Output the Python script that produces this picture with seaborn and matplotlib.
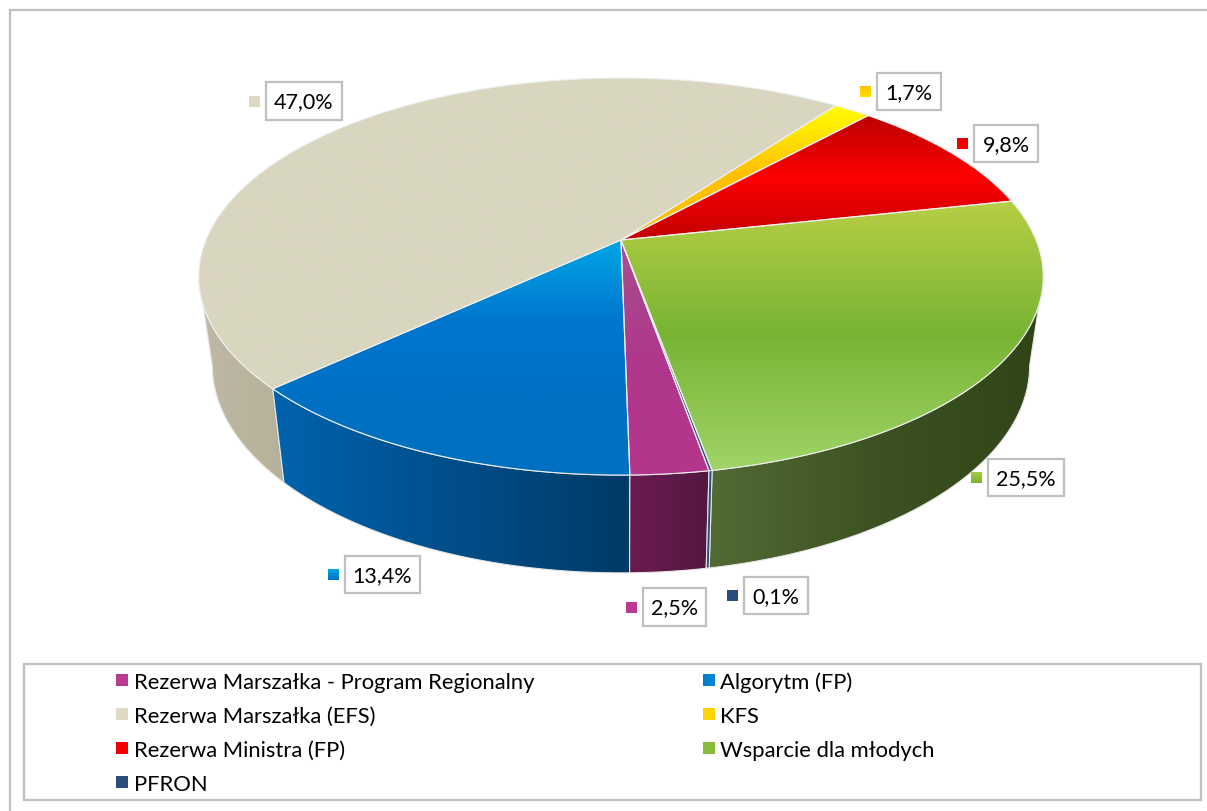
#!/usr/bin/env python3
"""3D-looking pie chart of fund shares, drawn from the percentages."""

import matplotlib
matplotlib.use("Agg")
import matplotlib.pyplot as plt
import numpy as np
import seaborn as sns
from matplotlib.lines import Line2D
from matplotlib.patches import Polygon, Rectangle

# data, in legend order (clockwise around the pie)
CATEGORIES = ["Rezerwa Marszałka - Program Regionalny", "Algorytm (FP)",
              "Rezerwa Marszałka (EFS)", "KFS", "Rezerwa Ministra (FP)",
              "Wsparcie dla młodych", "PFRON"]
SHARES = [2.5, 13.4, 47.0, 1.7, 9.8, 25.5, 0.1]
LABELS = ["2,5%", "13,4%", "47,0%", "1,7%", "9,8%", "25,5%", "0,1%"]

# styles
KEY_COLORS = ["#B83B90", "#0080D0", "#DDD9C3", "#FFD500", "#F00000", "#86BC3A", "#2A4D7C"]
TOP_STOPS = [["#A5508F", "#B0388C", "#B5368D"],
             ["#00A7E6", "#0078CF", "#0070C4", "#0070C0"],
             ["#D9D6C0", "#D9D6C0"],
             ["#FFFF00", "#FFC000", "#FFC000"],
             ["#BB0000", "#FF0000", "#C00000"],
             ["#B8CF45", "#78B434", "#A0D468"],
             ["#2A4D7C", "#2A4D7C"]]
WALL_STOPS = [["#6B1B50", "#521840"],
              ["#0063AE", "#003A66"],
              ["#BFB9A5", "#B5B19A"],
              ["#FFC000", "#C09000"],
              ["#A00000", "#700000"],
              ["#526B35", "#3C5222", "#2F4517"],
              ["#2A4D7C", "#2A4D7C"]]
SQUARE_STOPS = [["#B83B90", "#B83B90"], ["#00A7E6", "#0070C4"], ["#DDD9C3", "#DDD9C3"],
                ["#FFC000", "#FFE000"], ["#E00000", "#FF0000"], ["#A8CC40", "#78B434"],
                ["#2A4D7C", "#2A4D7C"]]

# layout, in image pixels
WIDTH, HEIGHT = 1207, 812
APEX = (621, 240)
START_ANGLE = 280.0
PERSP = 0.184
SCALE_A, SCALE_B = 191.8, 415.0
BOTTOM_SX, BOTTOM_SY, DEPTH = 0.968, 1.046, 87.0
# left, top, right, bottom of each value box
LABEL_BOXES = [(643, 588, 706, 626), (345, 556, 420, 593), (266, 82, 342, 120),
               (877, 73, 941, 110), (974, 125, 1038, 162), (988, 459, 1064, 496),
               (744, 577, 808, 614)]
FRAME_GREY = "#BFBFBF"

sns.set_theme(style="white")
plt.rcParams["font.family"] = ["Lato", "DejaVu Sans"]


def project(theta_deg, bottom=False):
    """Unit circle angle -> pixel offsets from the apex, y up."""
    t = np.radians(theta_deg)
    u, v = np.cos(t), np.sin(t)
    den = 1 + PERSP * v
    x, y = SCALE_B * u / den, SCALE_A * v / den
    if bottom:
        return BOTTOM_SX * x, BOTTOM_SY * y - DEPTH
    return x, y


def gradient_fill(ax, xy, stops, vertical, z):
    """Fill a polygon with a linear gradient, blended through seaborn."""
    cmap = sns.blend_palette(stops, as_cmap=True)
    x0, x1 = xy[:, 0].min(), xy[:, 0].max()
    y0, y1 = xy[:, 1].min(), xy[:, 1].max()
    ramp = np.linspace(0, 1, 256)
    ramp = ramp[:, None] if vertical else ramp[None, :]
    im = ax.imshow(ramp, cmap=cmap, vmin=0, vmax=1, origin="upper", aspect="auto",
                   extent=(x0, x1, y0, y1), zorder=z, interpolation="bilinear")
    clip = Polygon(xy, closed=True, transform=ax.transData, facecolor="none", edgecolor="none")
    ax.add_patch(clip)
    im.set_clip_path(clip)


def to_px(x, y):
    """Image pixel -> data coordinates."""
    return x - APEX[0], APEX[1] - y


fig = plt.figure(figsize=(WIDTH / 100, HEIGHT / 100), dpi=100, facecolor="white")
ax = fig.add_axes([0, 0, 1, 1])
ax.set_axis_off()

ends = START_ANGLE - np.cumsum(SHARES) * 3.6
starts = np.r_[START_ANGLE, ends[:-1]]

# walls first, only the part of each slice that faces the viewer
z = 2
for i in [2, 3, 4, 5, 1, 0, 6]:
    th = np.linspace(starts[i], ends[i], 1000)
    th = th[np.sin(np.radians(th)) <= -PERSP]
    if len(th) < 2:
        continue
    top = np.column_stack(project(th))
    bot = np.column_stack(project(th, bottom=True))
    xy = np.vstack([top, bot[::-1]])
    gradient_fill(ax, xy, WALL_STOPS[i], False, z)
    ax.add_patch(Polygon(xy, closed=True, facecolor="none", edgecolor="#E6E6E6",
                         lw=0.8, zorder=z + 0.5))
    z += 1

# top faces
for i in range(len(SHARES)):
    th = np.linspace(starts[i], ends[i], 200)
    xy = np.vstack([[0, 0], np.column_stack(project(th))])
    gradient_fill(ax, xy, TOP_STOPS[i], True, z)
    z += 1
for i in range(len(SHARES)):
    th = np.linspace(starts[i], ends[i], 200)
    xy = np.vstack([[0, 0], np.column_stack(project(th))])
    ax.add_patch(Polygon(xy, closed=True, facecolor="none", edgecolor="#EFEFEF",
                         lw=0.8, zorder=z))

# value boxes with their colour squares
z += 1
for i, (l, t, r, b) in enumerate(LABEL_BOXES):
    x0, y1 = to_px(l, t)
    x1, y0 = to_px(r, b)
    ax.add_patch(Rectangle((x0, y0), x1 - x0, y1 - y0, facecolor="white",
                           edgecolor=FRAME_GREY, lw=1.6, zorder=z))
    ax.text((x0 + x1) / 2, (y0 + y1) / 2 - 0.5, LABELS[i], ha="center", va="center",
            fontsize=15.5, color="black", zorder=z + 1)
    sx0, sy1 = to_px(l - 17, (t + b) / 2 - 5.5)
    square = np.array([[sx0, sy1], [sx0 + 11, sy1], [sx0 + 11, sy1 - 11], [sx0, sy1 - 11]])
    gradient_fill(ax, square, SQUARE_STOPS[i], True, z + 1)

# outer frame: only left and top edges show
ax.plot(*zip(to_px(10, HEIGHT), to_px(10, 10), to_px(WIDTH, 10)),
        color=FRAME_GREY, lw=1.6, zorder=1, solid_joinstyle="miter")

# legend box
lx0, ly1 = to_px(24, 664)
lx1, ly0 = to_px(1201, 800)
ax.add_patch(Rectangle((lx0, ly0), lx1 - lx0, ly1 - ly0, facecolor="white",
                       edgecolor=FRAME_GREY, lw=1.6, zorder=z))

# matplotlib fills columns first, so take the rows apart
order = [0, 2, 4, 6, 1, 3, 5]
handles = [Line2D([], [], ls="none", marker="s", ms=8, mew=0, color=KEY_COLORS[i]) for i in order]
leg = ax.legend(handles, [CATEGORIES[i] for i in order], ncol=2, frameon=False,
                loc="upper left", bbox_to_anchor=(113.5 / WIDTH, 1 - 672.5 / HEIGHT),
                borderaxespad=0, borderpad=0, fontsize=15.8, handlelength=0.8,
                handletextpad=0.12, labelspacing=0.63, columnspacing=7.56)
leg.set_zorder(z + 2)
for txt in leg.get_texts():
    txt.set_color("black")

ax.set_xlim(-APEX[0], WIDTH - APEX[0])
ax.set_ylim(APEX[1] - HEIGHT + 1, APEX[1] + 1)

fig.savefig("out.png", dpi=100)
plt.close()
